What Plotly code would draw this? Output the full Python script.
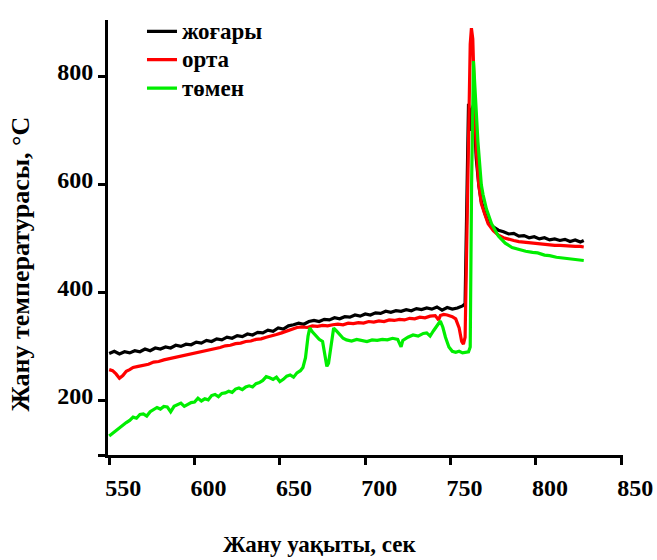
import plotly.graph_objects as go

# ---- data ----
black_x = [550, 553, 556, 559, 562, 565, 568, 571, 574, 577, 580, 583, 586, 589, 592, 595, 598, 601, 604, 607,
           610, 613, 616, 619, 622, 625, 628, 631, 634, 637, 640, 643, 646, 649, 652, 655, 658, 661, 664, 667,
           670, 673, 676, 679, 682, 685, 688, 691, 694, 697, 700, 703, 706, 709, 712, 715, 718, 721, 724, 727,
           730, 733, 736, 739, 742, 745, 748, 751, 754, 757, 758.5, 759.5, 760.5, 761.5, 762.5, 763.5, 765, 766.5,
           768, 770, 772, 775, 778, 781, 784, 787, 790, 793, 796, 799, 802, 805, 808, 811, 814, 817, 820, 823, 826, 828]
black_y = [288, 292, 287, 291, 289, 293, 291, 296, 293, 298, 296, 300, 298, 303, 301, 305, 304, 309, 307, 312,
           310, 315, 313, 318, 316, 321, 319, 324, 322, 327, 326, 331, 329, 335, 333, 339, 341, 344, 342, 347,
           349, 347, 351, 350, 354, 352, 356, 355, 359, 357, 361, 359, 363, 362, 366, 364, 367, 366, 369, 367,
           371, 369, 372, 370, 374, 368, 373, 370, 372, 376, 380, 620, 750, 700, 740, 748, 650, 600,
           569, 548, 531, 522, 516, 513, 509, 510, 505, 506, 502, 504, 500, 502, 498, 500, 497, 499, 495, 498, 494, 497]

red_x = [550, 552, 554, 556, 558, 560, 562, 564, 567, 570, 573, 576, 579, 582, 585, 588, 591, 594, 597, 600,
         603, 606, 609, 612, 615, 618, 621, 624, 627, 630, 633, 636, 639, 642, 645, 648, 651, 654, 657, 660,
         663, 666, 669, 672, 675, 678, 681, 684, 687, 690, 693, 696, 699, 702, 705, 708, 711, 714, 717, 720,
         723, 726, 729, 732, 735, 738, 741, 743, 744, 746, 748, 751, 753, 755, 756.5, 757.5, 758.5, 759.5, 760.5,
         761.5, 762.2, 763, 764, 765, 766.5, 768, 770, 772, 775, 778, 781, 784, 787, 790, 793, 796, 799, 802,
         805, 808, 811, 814, 817, 820, 823, 826, 828]
red_y = [258, 256, 250, 242, 247, 255, 258, 262, 264, 266, 268, 272, 273, 276, 278, 281, 282, 285, 287, 289,
         290, 293, 295, 297, 299, 302, 303, 306, 307, 310, 311, 314, 315, 318, 320, 323, 326, 329, 333, 336,
         337, 336, 339, 338, 340, 339, 341, 342, 341, 344, 343, 345, 344, 347, 346, 348, 347, 350, 349, 351,
         350, 353, 352, 355, 354, 357, 358, 350, 358, 360, 359, 356, 352, 335, 310, 305, 318, 500, 720,
         860, 890, 870, 760, 667, 600, 565, 546, 528, 515, 507, 502, 499, 497, 495, 494, 492, 492, 490,
         490, 489, 488, 488, 487, 487, 486, 486, 485]

green_x = [550, 552, 554, 556, 558, 560, 562, 564, 566, 568, 570, 572, 574, 576, 578, 580, 582, 584, 586, 588,
           590, 592, 594, 596, 598, 600, 602, 604, 606, 608, 610, 612, 614, 616, 618, 620, 622, 624, 626, 628,
           630, 632, 634, 636, 638, 640, 642, 644, 646, 648, 650, 652, 654, 656, 658, 660, 662, 663.5, 665, 666.5,
           667.5, 669, 671, 673, 675, 676.5, 677.5, 678.5, 680, 681.5, 683, 685, 687, 689, 692, 695, 698, 701, 704,
           707, 710, 713, 716, 719, 721, 722, 725, 728, 731, 734, 736, 738, 740, 742, 744, 745.5, 747, 749, 751,
           753, 755, 757, 759, 760.5, 761.5, 762.3, 763.4, 764.5, 766, 768, 769, 771, 774, 778, 782, 786, 790,
           794, 798, 801, 805, 808, 812, 815, 818, 821, 824, 828]
green_y = [135, 140, 146, 150, 156, 160, 164, 170, 168, 175, 176, 172, 180, 184, 188, 185, 190, 189, 180, 190,
           193, 196, 190, 193, 197, 198, 205, 200, 204, 202, 210, 212, 208, 214, 215, 218, 216, 222, 224, 221,
           226, 228, 226, 232, 234, 238, 245, 243, 240, 244, 236, 240, 246, 248, 244, 252, 256, 262, 280, 320,
           335, 328, 320, 314, 310, 285, 264, 270, 300, 335, 330, 322, 316, 313, 311, 314, 312, 310, 313,
           312, 314, 313, 316, 314, 300, 312, 318, 322, 320, 325, 326, 320, 330, 340, 348, 336, 318, 300, 292,
           290, 292, 289, 291, 291, 300, 600, 829, 760, 680, 600, 582, 555, 528, 505, 492, 484, 480,
           477, 475, 474, 470, 469, 466, 465, 463, 462, 461, 460]

series_names = ["жоғары", "орта", "төмен"]
series_colors = ["#000000", "#ff0000", "#00ee00"]

x_ticks = [550, 600, 650, 700, 750, 800, 850]
y_ticks = [100, 200, 400, 600, 800]
y_ticktext = ["", "200", "400", "600", "800"]

x_title = "Жану уақыты, сек"
y_title = "Жану температурасы, °C"

FONT = "Liberation Serif"

fig = go.Figure()
for xs, ys, name, col in [(black_x, black_y, series_names[0], series_colors[0]),
                          (red_x, red_y, series_names[1], series_colors[1]),
                          (green_x, green_y, series_names[2], series_colors[2])]:
    fig.add_trace(go.Scatter(x=xs, y=ys, mode="lines",
                             name='<span style="font-size:23px">' + name + '</span>',
                             line=dict(color=col, width=3.2)))

axis_common = dict(showline=True, linecolor="black", linewidth=3, ticks="outside",
                   ticklen=7, tickwidth=3, tickcolor="black", showgrid=False, zeroline=False,
                   automargin=False,
                   tickfont=dict(family=FONT, size=24, color="black", weight="bold"))

fig.update_layout(
    width=657, height=560,
    margin=dict(l=108, r=34, t=12, b=105),
    paper_bgcolor="white", plot_bgcolor="white",
    font=dict(family=FONT, color="black"),
    showlegend=True,
    legend=dict(x=0.066, y=1.018, xanchor="left", yanchor="top",
                bgcolor="rgba(0,0,0,0)", itemwidth=30,
                font=dict(family=FONT, size=19.5, color="black", weight="bold"),
                tracegroupgap=0),
    xaxis=dict(range=[549.3, 851], tickvals=x_ticks, ticklabelstandoff=2, ticklabelshift=14,
               **axis_common),
    yaxis=dict(range=[100, 905], tickvals=y_ticks, ticktext=y_ticktext, ticklabelstandoff=0,
               ticklabelshift=-5, **axis_common),
    annotations=[
        dict(text=x_title, xref="paper", yref="paper", x=0.412, y=-0.205,
             xanchor="center", yanchor="middle", showarrow=False,
             font=dict(family=FONT, size=23, color="black", weight="bold")),
        dict(text=y_title, xref="paper", yref="paper", x=-0.169, y=0.44,
             xanchor="center", yanchor="middle", showarrow=False, textangle=-90,
             font=dict(family=FONT, size=26, color="black", weight="bold")),
    ],
)

fig.write_html("out.html")
